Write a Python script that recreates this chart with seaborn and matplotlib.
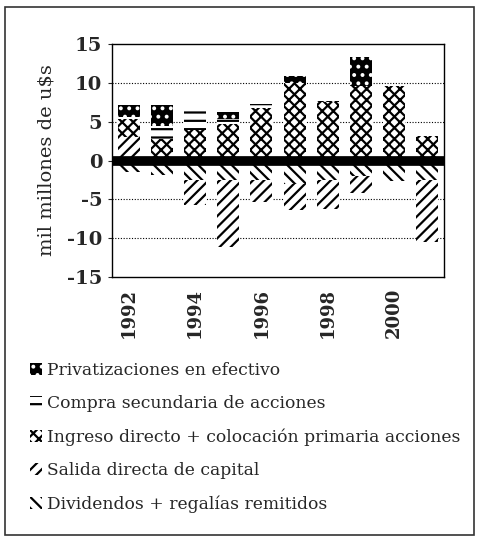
import numpy as np
import pandas as pd
import seaborn as sns
import matplotlib
matplotlib.use("Agg")
import matplotlib.pyplot as plt
from matplotlib.patches import Patch, Rectangle

years = [1992, 1993, 1994, 1995, 1996, 1997, 1998, 1999, 2000, 2001]
privatizaciones = [1.5, 2.6, 0.0, 1.0, 0.0, 0.9, 0.2, 3.7, 0.0, 0.0]
compra = [0.3, 1.7, 2.5, 0.6, 0.6, 0.0, 0.0, 0.0, 0.0, 0.0]
ingreso = [2.3, 2.8, 3.9, 4.7, 6.7, 10.0, 7.5, 9.6, 9.6, 3.2]
salida = [3.0, 0.0, -3.2, -8.7, -2.9, -3.4, -3.7, -2.2, 0.0, -8.0]
dividendos = [-1.5, -1.9, -2.5, -2.5, -2.5, -3.0, -2.5, -2.0, -2.6, -2.5]

labels = ["Privatizaciones en efectivo",
          "Compra secundaria de acciones",
          "Ingreso directo + colocación primaria acciones",
          "Salida directa de capital",
          "Dividendos + regalías remitidos"]
ytick_vals = [-15, -10, -5, 0, 5, 10, 15]
xtick_labels = ["1992", "1994", "1996", "1998", "2000"]

sns.set_style("white")
plt.rcParams['font.family'] = ['DejaVu Serif']
plt.rcParams['hatch.linewidth'] = 1.6

fig = plt.figure(figsize=(4.78, 5.41), dpi=100)
ax = fig.add_axes([112/478, 1-277/541, (444-112)/478, (277-44)/541])

df = pd.DataFrame({"year": [str(y) for y in years],
                   "priv": privatizaciones, "compra": compra, "ingreso": ingreso,
                   "salida": salida, "div": dividendos})

sal = np.array(salida)
div = np.array(dividendos)
sal_pos = np.where(sal > 0, sal, 0)
sal_neg = np.where(sal < 0, sal, 0)
ing = np.array(ingreso)
comp = np.array(compra)

styles = {
    "priv": dict(color="black", edgecolor="white", hatch=".."),
    "compra": dict(color="white", edgecolor="black", hatch="--"),
    "ingreso": dict(color="white", edgecolor="black", hatch="xxx"),
    "salida": dict(color="white", edgecolor="black", hatch="///"),
    "div": dict(color="white", edgecolor="black", hatch="\\\\\\"),
}
W = 0.66
order = df["year"].tolist()

def bar(values, bottom, key):
    st = styles[key]
    sns.barplot(x=df["year"], y=values, order=order, ax=ax, width=W,
                saturation=1, bottom=bottom, linewidth=0, **st)

# positive stack
bar(sal_pos, 0, "salida")
bar(ing, sal_pos, "ingreso")
bar(comp, sal_pos + ing, "compra")
bar(np.array(privatizaciones), sal_pos + ing + comp, "priv")
# negative stack
bar(div, 0, "div")
bar(sal_neg, div, "salida")

ax.set_ylim(-15, 15)
ax.set_xlim(-0.5, 9.5)
ax.set_yticks(ytick_vals)
ax.set_yticklabels([str(v) for v in ytick_vals], fontsize=14, fontweight="bold")
ax.set_xticks([0, 2, 4, 6, 8])
ax.set_xticklabels(xtick_labels, rotation=90, fontsize=13, fontweight="bold")
ax.set_xlabel("")
ax.set_ylabel("mil millones de u\\$s", fontsize=14, labelpad=8)
for v in [5, 10, -5, -10]:
    ax.axhline(v, color="black", lw=0.8, ls=(0, (1, 1.5)), zorder=0)
ax.axhline(0, color="black", lw=7, zorder=5)
for s in ax.spines.values():
    s.set_color("black")
    s.set_linewidth(1.0)
ax.tick_params(axis="y", length=3, direction="out", left=True, pad=4)
ax.tick_params(axis="x", length=0, pad=8)

handles = [Patch(facecolor=styles[k]["color"], edgecolor=styles[k]["edgecolor"],
                 hatch=styles[k]["hatch"], linewidth=0)
           for k in ["priv", "compra", "ingreso", "salida", "div"]]
fig.legend(handles, labels, loc="upper left", bbox_to_anchor=(30/478, 1-362/541),
           frameon=False, fontsize=12.3, handlelength=0.7, handleheight=0.7,
           handletextpad=0.3, labelspacing=0.95, borderaxespad=0, borderpad=0)

fig.patches.append(Rectangle((5/478, 1-535/541), 469/478, 528/541,
                             transform=fig.transFigure, fill=False,
                             edgecolor="#333333", linewidth=1.2))

fig.savefig("out.png", dpi=100)
